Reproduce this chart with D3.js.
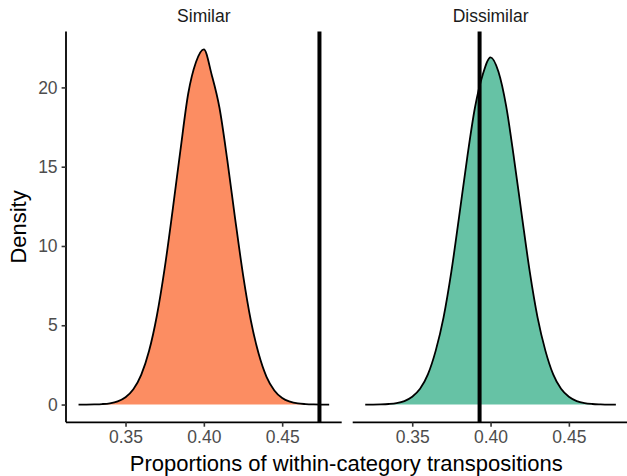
<!DOCTYPE html>
<html>
<head>
<meta charset="utf-8">
<script src="https://cdn.jsdelivr.net/npm/d3@7"></script>
<style>
  body { margin: 0; background: #fff; }
  text { font-family: "Liberation Sans", Arial, Helvetica, sans-serif; }
</style>
</head>
<body>
<div id="chart"></div>
<script>
// facet names, one per panel
const panels = ["Similar", "Dissimilar"];

const xGrid = [0.320, 0.325, 0.330, 0.335, 0.340, 0.345, 0.350, 0.355, 0.360, 0.365,
  0.370, 0.375, 0.380, 0.385, 0.390, 0.395, 0.400, 0.405, 0.410, 0.415,
  0.420, 0.425, 0.430, 0.435, 0.440, 0.445, 0.450, 0.455, 0.460, 0.465,
  0.470, 0.475, 0.480];

// density of the Similar panel
const similarDensity = [0.00, 0.00, 0.01, 0.03, 0.08, 0.20, 0.46, 0.96, 1.87, 3.37,
  5.6, 8.6, 12.2, 16.0, 19.6, 21.6, 22.4, 20.8, 18.7, 15.4,
  11.7, 8.2, 5.3, 3.2, 1.75, 0.89, 0.41, 0.18, 0.07, 0.03,
  0.01, 0.00, 0.00];

// density of the Dissimilar panel
const dissimilarDensity = [0.00, 0.00, 0.01, 0.035, 0.09, 0.22, 0.49, 0.99, 1.9, 3.4,
  5.5, 8.4, 11.9, 15.5, 18.7, 20.8, 21.9, 21.0, 18.8, 15.5,
  11.9, 8.4, 5.5, 3.4, 1.9, 0.99, 0.49, 0.22, 0.09, 0.035,
  0.012, 0.00, 0.00];

// observed proportion drawn as a vertical line in each panel
const observed = [0.4738, 0.3930];

const fills = ["#FC8D62", "#66C2A5"];
const yTicks = [0, 5, 10, 15, 20];
const xTicks = [0.35, 0.40, 0.45];

const densities = [similarDensity, dissimilarDensity];

// layout
const W = 627, H = 476;
const panelLeft = [66, 352.7];
const panelW = 275.7;
const panelTop = 31.6, panelBottom = 422.3;

const svg = d3.select("#chart").append("svg")
    .attr("width", W)
    .attr("height", H);

// shared scales (ggplot style 5% expansion)
const xMin = d3.min(xGrid), xMax = d3.max(xGrid);
const xPad = (xMax - xMin) * 0.05;
const yMax = d3.max(densities.flat());
const yPad = yMax * 0.05;

const yScale = d3.scaleLinear()
    .domain([-yPad, yMax + yPad])
    .range([panelBottom, panelTop]);

panels.forEach((name, i) => {
    const xScale = d3.scaleLinear()
        .domain([xMin - xPad, xMax + xPad])
        .range([panelLeft[i], panelLeft[i] + panelW]);

    const g = svg.append("g");
    const pts = xGrid.map((x, j) => ({x: x, y: densities[i][j]}));

    // filled density
    const area = d3.area()
        .x(d => xScale(d.x))
        .y0(yScale(0))
        .y1(d => yScale(d.y))
        .curve(d3.curveMonotoneX);

    g.append("path")
        .datum(pts)
        .attr("d", area)
        .attr("fill", fills[i]);

    const line = d3.line()
        .x(d => xScale(d.x))
        .y(d => yScale(d.y))
        .curve(d3.curveMonotoneX);

    g.append("path")
        .datum(pts)
        .attr("d", line)
        .attr("fill", "none")
        .attr("stroke", "#000")
        .attr("stroke-width", 1.8)
        .attr("stroke-linejoin", "round");

    // observed value
    g.append("line")
        .attr("x1", xScale(observed[i])).attr("x2", xScale(observed[i]))
        .attr("y1", panelTop).attr("y2", panelBottom)
        .attr("stroke", "#000")
        .attr("stroke-width", 4);

    // x axis
    const xAxis = d3.axisBottom(xScale)
        .tickValues(xTicks)
        .tickFormat(d3.format(".2f"))
        .tickSize(4.4)
        .tickPadding(4);

    const xg = g.append("g")
        .attr("transform", `translate(0,${panelBottom})`)
        .call(xAxis);
    xg.select(".domain")
        .attr("d", `M${panelLeft[i]},0H${panelLeft[i] + panelW}`)
        .attr("stroke", "#000")
        .attr("stroke-width", 1.8);
    xg.selectAll(".tick line").attr("stroke", "#333").attr("stroke-width", 1.6);
    xg.selectAll(".tick text")
        .attr("fill", "#4D4D4D")
        .style("font-size", "17.5px");

    // strip label
    g.append("text")
        .attr("x", panelLeft[i] + panelW / 2)
        .attr("y", 22)
        .attr("text-anchor", "middle")
        .attr("fill", "#1A1A1A")
        .style("font-size", "17.5px")
        .text(name);
});

// y axis only on the first panel
const yAxis = d3.axisLeft(yScale)
    .tickValues(yTicks)
    .tickSize(4.4)
    .tickPadding(4);

const yg = svg.append("g")
    .attr("transform", `translate(${panelLeft[0]},0)`)
    .call(yAxis);
yg.select(".domain")
    .attr("d", `M0,${panelTop}V${panelBottom}`)
    .attr("stroke", "#000")
    .attr("stroke-width", 1.8);
yg.selectAll(".tick line").attr("stroke", "#333").attr("stroke-width", 1.6);
yg.selectAll(".tick text")
    .attr("fill", "#4D4D4D")
    .style("font-size", "17.5px");

// axis titles
svg.append("text")
    .attr("x", (panelLeft[0] + panelLeft[1] + panelW) / 2 - 1)
    .attr("y", 471)
    .attr("text-anchor", "middle")
    .attr("fill", "#000")
    .style("font-size", "22px")
    .text("Proportions of within-category transpositions");

svg.append("text")
    .attr("transform", `translate(26,${(panelTop + panelBottom) / 2}) rotate(-90)`)
    .attr("text-anchor", "middle")
    .attr("fill", "#000")
    .style("font-size", "22px")
    .text("Density");
</script>
</body>
</html>
